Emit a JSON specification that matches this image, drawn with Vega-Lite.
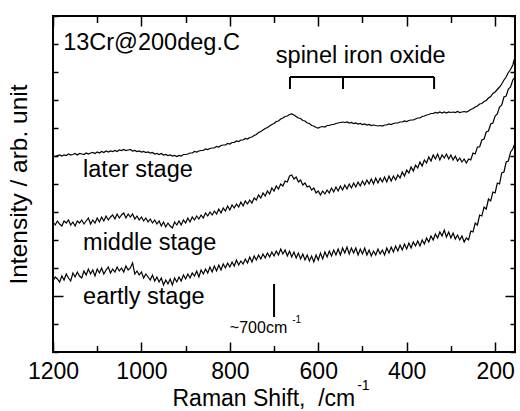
{
  "$schema": "https://vega.github.io/schema/vega-lite/v6.json",
  "width": 462,
  "height": 336,
  "autosize": {"type": "none"},
  "padding": {"left": 53, "top": 16, "right": 5, "bottom": 59},
  "background": "white",
  "config": {
    "view": {"stroke": "black", "strokeWidth": 2},
    "font": "Liberation Sans",
    "axis": {
      "domain": false, "grid": false, "tickColor": "black", "tickWidth": 1.5,
      "labelColor": "black", "titleColor": "black", "labelFont": "Liberation Sans",
      "titleFont": "Liberation Sans", "labelFontSize": 23, "titleFontSize": 23,
      "titleFontWeight": "normal"
    }
  },
  "datasets": {
    "spec": [
      {"x":1200,"L":196,"M":130,"E":71},{"x":1195,"L":195.5,"M":127,"E":75},{"x":1190,"L":196.5,"M":131,"E":73},
      {"x":1185,"L":197,"M":128,"E":70},{"x":1180,"L":196,"M":126,"E":76},{"x":1175,"L":197,"M":131,"E":72},
      {"x":1170,"L":196.5,"M":129,"E":78},{"x":1165,"L":198,"M":132,"E":74},{"x":1160,"L":197,"M":127,"E":71},
      {"x":1155,"L":197.5,"M":130,"E":79},{"x":1150,"L":198.5,"M":126,"E":75},{"x":1145,"L":197,"M":131,"E":80},
      {"x":1140,"L":198.5,"M":129,"E":76},{"x":1135,"L":198,"M":132,"E":74},{"x":1130,"L":197.5,"M":128,"E":81},
      {"x":1125,"L":199,"M":131,"E":77},{"x":1120,"L":198,"M":134,"E":83},{"x":1115,"L":199,"M":128,"E":78},
      {"x":1110,"L":199.5,"M":132,"E":82},{"x":1105,"L":198.5,"M":129,"E":76},{"x":1100,"L":200,"M":134,"E":83},
      {"x":1095,"L":199,"M":130,"E":79},{"x":1090,"L":200.5,"M":135,"E":84},{"x":1085,"L":199.5,"M":131,"E":78},
      {"x":1080,"L":201,"M":136,"E":82},{"x":1075,"L":200,"M":132,"E":85},{"x":1070,"L":201,"M":135,"E":79},
      {"x":1065,"L":200.5,"M":137,"E":83},{"x":1060,"L":201.5,"M":133,"E":80},{"x":1055,"L":200.5,"M":138,"E":85},
      {"x":1050,"L":202,"M":134,"E":81},{"x":1045,"L":201.5,"M":137,"E":84},{"x":1040,"L":202.5,"M":139,"E":80},
      {"x":1035,"L":201.5,"M":134,"E":86},{"x":1030,"L":202,"M":138,"E":82},{"x":1025,"L":202.5,"M":135,"E":84},
      {"x":1020,"L":201,"M":138,"E":89},{"x":1015,"L":201.5,"M":133,"E":78},{"x":1010,"L":200.5,"M":136,"E":81},
      {"x":1005,"L":201,"M":132,"E":77},{"x":1000,"L":200,"M":135,"E":80},{"x":995,"L":200.5,"M":131,"E":74},
      {"x":990,"L":199.5,"M":134,"E":78},{"x":985,"L":200,"M":130,"E":75},{"x":980,"L":199,"M":133,"E":72},
      {"x":975,"L":199.5,"M":129,"E":77},{"x":970,"L":198,"M":132,"E":71},{"x":965,"L":198.5,"M":128,"E":75},
      {"x":960,"L":197.5,"M":131,"E":70},{"x":955,"L":198.5,"M":126,"E":74},{"x":950,"L":197,"M":130,"E":67},
      {"x":945,"L":197.5,"M":125,"E":72},{"x":940,"L":196.5,"M":129,"E":68},{"x":935,"L":197,"M":126,"E":73},
      {"x":930,"L":196,"M":124,"E":67},{"x":925,"L":196.5,"M":130,"E":74},{"x":920,"L":195.5,"M":127,"E":70},
      {"x":915,"L":196.5,"M":131,"E":75},{"x":910,"L":196,"M":127,"E":71},{"x":905,"L":197.5,"M":132,"E":77},
      {"x":900,"L":197.5,"M":129,"E":73},{"x":895,"L":198,"M":134,"E":78},{"x":890,"L":199,"M":130,"E":74},
      {"x":885,"L":199,"M":135,"E":79},{"x":880,"L":200.5,"M":132,"E":76},{"x":875,"L":200,"M":136,"E":81},
      {"x":870,"L":201,"M":133,"E":75},{"x":865,"L":201.5,"M":137,"E":82},{"x":860,"L":201.5,"M":134,"E":78},
      {"x":855,"L":203,"M":139,"E":83},{"x":850,"L":202.5,"M":136,"E":79},{"x":845,"L":203.5,"M":140,"E":85},
      {"x":840,"L":204,"M":137,"E":80},{"x":835,"L":204,"M":141,"E":86},{"x":830,"L":205.5,"M":138,"E":81},
      {"x":825,"L":205,"M":143,"E":87},{"x":820,"L":206.5,"M":139,"E":82},{"x":815,"L":207,"M":144,"E":88},
      {"x":810,"L":207,"M":141,"E":84},{"x":805,"L":208.5,"M":146,"E":89},{"x":800,"L":208,"M":142,"E":85},
      {"x":795,"L":209.5,"M":147,"E":90},{"x":790,"L":209.5,"M":144,"E":86},{"x":785,"L":211,"M":148,"E":92},
      {"x":780,"L":210.5,"M":145,"E":87},{"x":775,"L":212,"M":150,"E":91},{"x":770,"L":212,"M":146,"E":88},
      {"x":765,"L":213.5,"M":151,"E":93},{"x":760,"L":213,"M":148,"E":89},{"x":755,"L":214.5,"M":152,"E":95},
      {"x":750,"L":215,"M":149,"E":90},{"x":745,"L":216.5,"M":154,"E":96},{"x":740,"L":217.5,"M":152,"E":92},
      {"x":735,"L":219.5,"M":157,"E":97},{"x":730,"L":220.5,"M":154,"E":93},{"x":725,"L":222,"M":159,"E":98},
      {"x":720,"L":223.5,"M":156,"E":94},{"x":715,"L":224.5,"M":161,"E":99},{"x":710,"L":226,"M":158,"E":95},
      {"x":705,"L":227.5,"M":164,"E":100},{"x":700,"L":228.5,"M":161,"E":96},{"x":695,"L":230.5,"M":166,"E":101},
      {"x":690,"L":231,"M":163,"E":97},{"x":685,"L":233,"M":168,"E":103},{"x":680,"L":234,"M":166,"E":98},
      {"x":675,"L":235.5,"M":171,"E":102},{"x":670,"L":236,"M":170,"E":96},{"x":665,"L":237.5,"M":176,"E":101},
      {"x":660,"L":238,"M":177,"E":95},{"x":655,"L":237,"M":173,"E":100},{"x":650,"L":235.5,"M":175,"E":94},
      {"x":645,"L":234,"M":170,"E":99},{"x":640,"L":233.5,"M":172,"E":93},{"x":635,"L":231.5,"M":167,"E":98},
      {"x":630,"L":231,"M":169,"E":92},{"x":625,"L":229,"M":165,"E":97},{"x":620,"L":228.5,"M":166,"E":91},
      {"x":615,"L":226.5,"M":162,"E":96},{"x":610,"L":226,"M":164,"E":90},{"x":605,"L":224.5,"M":159,"E":97},
      {"x":600,"L":224,"M":161,"E":92},{"x":595,"L":225,"M":157,"E":99},{"x":590,"L":225.5,"M":161,"E":93},
      {"x":585,"L":225,"M":158,"E":100},{"x":580,"L":226.5,"M":162,"E":95},{"x":575,"L":226.5,"M":159,"E":101},
      {"x":570,"L":227.5,"M":164,"E":96},{"x":565,"L":227.5,"M":160,"E":102},{"x":560,"L":228.5,"M":165,"E":97},
      {"x":555,"L":229,"M":161,"E":103},{"x":550,"L":229.5,"M":166,"E":97},{"x":545,"L":230,"M":162,"E":104},
      {"x":540,"L":229.5,"M":167,"E":99},{"x":535,"L":230,"M":163,"E":105},{"x":530,"L":229,"M":168,"E":98},
      {"x":525,"L":229.5,"M":164,"E":104},{"x":520,"L":228.5,"M":169,"E":99},{"x":515,"L":229,"M":165,"E":104},
      {"x":510,"L":228,"M":170,"E":97},{"x":505,"L":228.5,"M":166,"E":103},{"x":500,"L":227.5,"M":171,"E":98},
      {"x":495,"L":228,"M":167,"E":104},{"x":490,"L":227,"M":172,"E":97},{"x":485,"L":227.5,"M":168,"E":102},
      {"x":480,"L":226.5,"M":173,"E":96},{"x":475,"L":227,"M":168,"E":101},{"x":470,"L":226.5,"M":174,"E":97},
      {"x":465,"L":226,"M":169,"E":103},{"x":460,"L":226.5,"M":174,"E":98},{"x":455,"L":226,"M":170,"E":102},
      {"x":450,"L":227,"M":175,"E":97},{"x":445,"L":227,"M":170,"E":104},{"x":440,"L":228,"M":176,"E":99},
      {"x":435,"L":227.5,"M":171,"E":105},{"x":430,"L":228.5,"M":176,"E":100},{"x":425,"L":229,"M":172,"E":106},
      {"x":420,"L":229,"M":177,"E":101},{"x":415,"L":230,"M":174,"E":107},{"x":410,"L":230,"M":180,"E":102},
      {"x":405,"L":231,"M":176,"E":108},{"x":400,"L":230.5,"M":182,"E":103},{"x":395,"L":231.5,"M":179,"E":109},
      {"x":390,"L":232,"M":185,"E":104},{"x":385,"L":232,"M":181,"E":110},{"x":380,"L":233,"M":187,"E":106},
      {"x":375,"L":234,"M":184,"E":111},{"x":370,"L":234,"M":190,"E":106},{"x":365,"L":235.5,"M":186,"E":112},
      {"x":360,"L":236,"M":192,"E":108},{"x":355,"L":237,"M":189,"E":114},{"x":350,"L":237.5,"M":195,"E":110},
      {"x":345,"L":238.5,"M":191,"E":116},{"x":340,"L":238.5,"M":197,"E":112},{"x":335,"L":239.5,"M":193,"E":118},
      {"x":330,"L":239,"M":198,"E":114},{"x":325,"L":240,"M":192,"E":120},{"x":320,"L":239,"M":197,"E":116},
      {"x":315,"L":240,"M":194,"E":122},{"x":310,"L":239,"M":198,"E":115},{"x":305,"L":240,"M":193,"E":120},
      {"x":300,"L":239.5,"M":197,"E":114},{"x":295,"L":240,"M":192,"E":119},{"x":290,"L":239.5,"M":196,"E":113},
      {"x":285,"L":240.5,"M":191,"E":117},{"x":280,"L":239.5,"M":194,"E":112},{"x":275,"L":240,"M":190,"E":116},
      {"x":270,"L":240.5,"M":193,"E":110},{"x":265,"L":240,"M":189,"E":114},{"x":260,"L":241,"M":193,"E":112},
      {"x":255,"L":242.5,"M":192,"E":121},{"x":250,"L":243.5,"M":199,"E":120},{"x":245,"L":245,"M":198,"E":129},
      {"x":240,"L":246,"M":205,"E":127},{"x":235,"L":248,"M":205,"E":137},{"x":230,"L":248.5,"M":212,"E":136},
      {"x":225,"L":250.5,"M":213,"E":145},{"x":220,"L":251.5,"M":220,"E":143},{"x":215,"L":254,"M":221,"E":153},
      {"x":210,"L":255.5,"M":228,"E":151},{"x":205,"L":258.5,"M":229,"E":160},{"x":200,"L":260,"M":236,"E":159},
      {"x":195,"L":262.5,"M":238,"E":169},{"x":190,"L":265,"M":245,"E":168},{"x":185,"L":268,"M":247,"E":179},
      {"x":180,"L":272,"M":255,"E":180},{"x":175,"L":275,"M":256,"E":190},{"x":170,"L":279.5,"M":263,"E":191},
      {"x":165,"L":282.5,"M":265,"E":200},{"x":160,"L":287,"M":272,"E":203},{"x":155,"L":295,"M":275,"E":209}
    ],
    "rules": [
      {"x":664,"x2":338,"y":275,"y2":275},
      {"x":664,"x2":664,"y":263,"y2":275},
      {"x":544,"x2":544,"y":263,"y2":275},
      {"x":338,"x2":338,"y":263,"y2":275},
      {"x":700,"x2":700,"y":35,"y2":68}
    ],
    "bigtext": [
      {"x":1177,"y":302,"t":"13Cr@200deg.C"},
      {"x":696,"y":289,"t":"spinel iron oxide"},
      {"x":1132,"y":175,"t":"later stage"},
      {"x":1132,"y":102,"t":"middle stage"},
      {"x":1132,"y":48,"t":"eartly stage"}
    ],
    "smalltext": [{"x":800,"y":19,"t":"~700cm"}],
    "sup1": [{"x":659,"y":29,"t":"-1"}],
    "sup2": [{"x":512,"y":-38,"t":"-1"}]
  },
  "resolve": {"axis": {"x": "independent", "y": "independent"}},
  "layer": [
    {
      "data": {"name": "spec"},
      "transform": [{"fold": ["L", "M", "E"], "as": ["key", "value"]}],
      "mark": {"type": "line", "color": "black", "strokeWidth": 1.2},
      "encoding": {
        "x": {"field": "x", "type": "quantitative",
          "scale": {"domain": [155, 1200], "reverse": true, "nice": false, "zero": false},
          "axis": {"orient": "bottom", "values": [200,300,400,500,600,700,800,900,1000,1100,1200],
            "format": "d", "labelExpr": "datum.value % 200 === 0 ? datum.label : ''",
            "tickSize": {"condition": {"test": "datum.value % 200 === 0", "value": -10}, "value": -6.5},
            "labelPadding": 18, "labelFlush": false,
            "title": "Raman Shift,\u00a0 /cm", "titleAnchor": "start", "titleAlign": "left", "titleX": 119, "titleY": 53, "titleBaseline": "alphabetic"}},
        "y": {"field": "value", "type": "quantitative",
          "scale": {"domain": [0, 336], "nice": false, "zero": false},
          "axis": {"orient": "left", "values": [0,28,56,84,112,140,168,196,224,252,280,308,336],
            "labels": false,
            "tickSize": {"condition": {"test": "datum.value === 56", "value": -10}, "value": -5},
            "title": "Intensity / arb. unit", "titleFontSize": 24.5, "titlePadding": 21}},
        "detail": {"field": "key"}
      }
    },
    {
      "data": {"name": "rules"},
      "mark": {"type": "rule", "color": "black", "strokeWidth": 2},
      "encoding": {
        "x": {"field": "x", "type": "quantitative",
          "scale": {"domain": [155, 1200], "reverse": true, "nice": false, "zero": false},
          "axis": {"orient": "top", "values": [200,300,400,500,600,700,800,900,1000,1100,1200],
            "labels": false, "title": null,
            "tickSize": {"condition": {"test": "datum.value % 200 === 0", "value": -10}, "value": -6.5}}},
        "x2": {"field": "x2"},
        "y": {"field": "y", "type": "quantitative",
          "scale": {"domain": [0, 336], "nice": false, "zero": false},
          "axis": {"orient": "right", "values": [0,28,56,84,112,140,168,196,224,252,280,308,336],
            "labels": false, "title": null,
            "tickSize": {"condition": {"test": "datum.value === 56", "value": -10}, "value": -5}}},
        "y2": {"field": "y2"}
      }
    },
    {
      "data": {"name": "bigtext"},
      "mark": {"type": "text", "align": "left", "baseline": "alphabetic", "fontSize": 23.5, "font": "Liberation Sans", "color": "black"},
      "encoding": {
        "x": {"field": "x", "type": "quantitative", "scale": {"domain": [155, 1200], "reverse": true, "nice": false, "zero": false}, "axis": null},
        "y": {"field": "y", "type": "quantitative", "scale": {"domain": [0, 336], "nice": false, "zero": false}, "axis": null},
        "text": {"field": "t"}
      }
    },
    {
      "data": {"name": "smalltext"},
      "mark": {"type": "text", "align": "left", "baseline": "alphabetic", "fontSize": 16, "font": "Liberation Sans", "color": "black"},
      "encoding": {
        "x": {"field": "x", "type": "quantitative", "scale": {"domain": [155, 1200], "reverse": true, "nice": false, "zero": false}, "axis": null},
        "y": {"field": "y", "type": "quantitative", "scale": {"domain": [0, 336], "nice": false, "zero": false}, "axis": null},
        "text": {"field": "t"}
      }
    },
    {
      "data": {"name": "sup1"},
      "mark": {"type": "text", "align": "left", "baseline": "alphabetic", "fontSize": 10, "font": "Liberation Sans", "color": "black"},
      "encoding": {
        "x": {"field": "x", "type": "quantitative", "scale": {"domain": [155, 1200], "reverse": true, "nice": false, "zero": false}, "axis": null},
        "y": {"field": "y", "type": "quantitative", "scale": {"domain": [0, 336], "nice": false, "zero": false}, "axis": null},
        "text": {"field": "t"}
      }
    },
    {
      "data": {"name": "sup2"},
      "mark": {"type": "text", "align": "left", "baseline": "alphabetic", "fontSize": 14, "font": "Liberation Sans", "color": "black"},
      "encoding": {
        "x": {"field": "x", "type": "quantitative", "scale": {"domain": [155, 1200], "reverse": true, "nice": false, "zero": false}, "axis": null},
        "y": {"field": "y", "type": "quantitative", "scale": {"domain": [0, 336], "nice": false, "zero": false}, "axis": null},
        "text": {"field": "t"}
      }
    }
  ]
}
